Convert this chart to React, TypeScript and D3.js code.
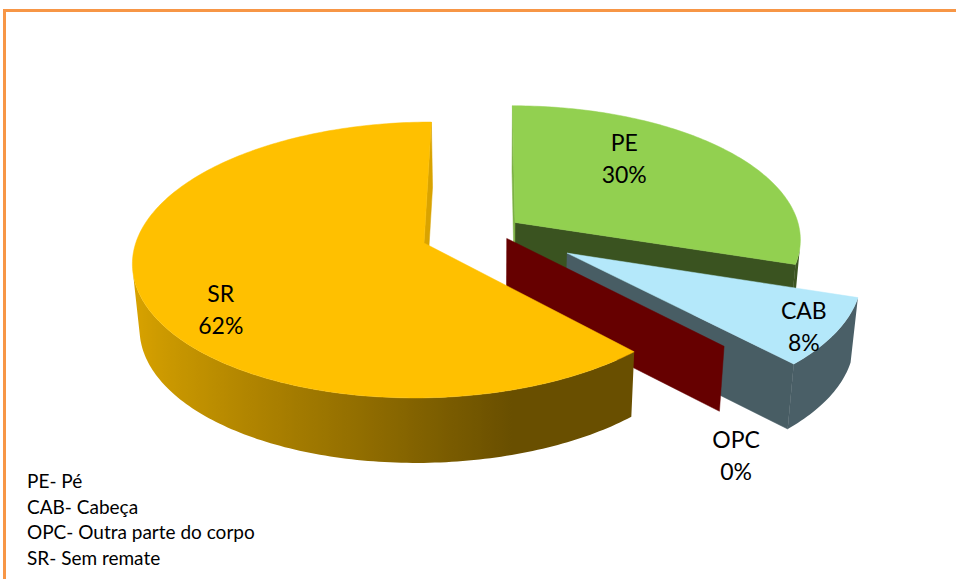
import { useMemo } from 'react'
import * as d3 from 'd3'

const W = 956, H = 579

// chart data
const categories = ['PE', 'CAB', 'OPC', 'SR']
const values = [30, 8, 0, 62]
const legendLines = ['PE- Pé', 'CAB- Cabeça', 'OPC- Outra parte do corpo', 'SR- Sem remate']

// look
const colors = ['#92D050', '#B4E8FA', '#FF0000', '#FFC000']
const explode = [0.105, 0.31, 0.08, 0.25]
// where each label sits: [angle in degrees, radius] from the slice tip
const labelSpots: [number, number][] = [[39, 0.66], [124, 0.9], [154, 1.5], [234.5, 0.8]]

// fake 3D camera: radius px, tilt, perspective, wall height px
const CX = 491, CY = 230.6, R = 285
const TILT = 0.466, PERSP = 0.122, DEPTH = 65, SHRINK = 0.02
const STEP = Math.PI / 180

function project(x: number, z: number, level: number): [number, number] {
  const k = 1 / (1 + PERSP * z)
  const drop = 1 - level
  return [CX + R * x * k * (1 - SHRINK * drop), CY - R * TILT * z * k + DEPTH * drop]
}

function signedArea(pts: [number, number][]) {
  let s = 0
  for (let i = 0; i < pts.length; i++) {
    const [x0, y0] = pts[i]
    const [x1, y1] = pts[(i + 1) % pts.length]
    s += x0 * y1 - x1 * y0
  }
  return s
}

function shade(c: string, f: number) {
  const col = d3.rgb(c)
  return d3.rgb(col.r * f, col.g * f, col.b * f).formatHex()
}

const wallShade = d3.scaleLinear().domain([-1, 0.3]).range([0.86, 0.41]).clamp(true)
const closed = d3.line<[number, number]>().curve(d3.curveLinearClosed)

type Face = { d: string; fill: string; key: string; grad?: Grad }
type Grad = { id: string; x1: number; x2: number; stops: { o: number; c: string }[] }

export default function App() {
  const { faces, labels } = useMemo(() => {
    const arcs = d3.pie<number>().sort(null).value(d => d)(values)
    const faces: Face[] = []
    const labels: { x: number; y: number; name: string; pct: string }[] = []

    arcs.forEach((a, i) => {
      const a0 = a.startAngle, a1 = a.endAngle
      const mid = (a0 + a1) / 2
      const ox = explode[i] * Math.sin(mid), oz = explode[i] * Math.cos(mid)
      const rim = (t: number, lv: number) => project(ox + Math.sin(t), oz + Math.cos(t), lv)
      const tip = (lv: number) => project(ox, oz, lv)
      const col = colors[i]
      const add = (pts: [number, number][], fill: string, key: string) => {
        if (signedArea(pts) < 0) faces.push({ d: closed(pts) || '', fill, key })
      }

      // outer wall: keep the front-facing run, one path with a shading gradient
      if (a1 > a0) {
        const n = Math.max(1, Math.ceil((a1 - a0) / STEP))
        const ts: number[] = []
        for (let j = 0; j <= n; j++) ts.push(a0 + (a1 - a0) * j / n)
        const seen: number[] = []
        for (let j = 0; j < n; j++) {
          const q = [rim(ts[j], 1), rim(ts[j + 1], 1), rim(ts[j + 1], 0), rim(ts[j], 0)] as [number, number][]
          if (signedArea(q) < 0) seen.push(j)
        }
        if (seen.length) {
          const j0 = seen[0], j1 = seen[seen.length - 1] + 1
          const run = ts.slice(j0, j1 + 1)
          const pts = [...run.map(t => rim(t, 1)), ...run.slice().reverse().map(t => rim(t, 0))]
          const xs = run.map(t => rim(t, 1)[0])
          const x1 = d3.min(xs)!, x2 = d3.max(xs)!
          const stops = run
            .map(t => ({ o: x2 > x1 ? (rim(t, 1)[0] - x1) / (x2 - x1) : 0, c: shade(col, wallShade(Math.sin(t))) }))
            .sort((p, q) => p.o - q.o)
          faces.push({ d: closed(pts) || '', fill: `url(#wall${i})`, key: `w${i}`, grad: { id: `wall${i}`, x1, x2, stops } })
        }
      }
      // cut faces
      add([rim(a1, 1), tip(1), tip(0), rim(a1, 0)],
        shade(col, -Math.sin(a1) < -0.3 ? 0.4 : 0.85), `e${i}`)
      add([tip(1), rim(a0, 1), rim(a0, 0), tip(0)],
        shade(col, Math.sin(a0) < -0.3 ? 0.4 : 0.85), `s${i}`)
      // top
      if (a1 > a0) {
        const pts: [number, number][] = [tip(1)]
        const n = Math.ceil((a1 - a0) / STEP)
        for (let j = 0; j <= n; j++) pts.push(rim(a0 + (a1 - a0) * j / n, 1))
        faces.push({ d: closed(pts) || '', fill: col, key: `t${i}` })
      }

      const [ang, r] = labelSpots[i]
      const th = ang * Math.PI / 180
      const [lx, ly] = project(ox + r * Math.sin(th), oz + r * Math.cos(th), 1)
      labels.push({ x: lx, y: ly, name: categories[i], pct: `${values[i]}%` })
    })
    return { faces, labels }
  }, [])

  return (
    <svg width={W} height={H} style={{ position: 'absolute', left: 0, top: 0, background: '#fff' }}
      fontFamily="Lato, 'Open Sans', sans-serif">
      <defs>
        {faces.filter(f => f.grad).map(f => (
          <linearGradient key={f.grad!.id} id={f.grad!.id} gradientUnits="userSpaceOnUse"
            x1={f.grad!.x1} x2={f.grad!.x2} y1={0} y2={0}>
            {f.grad!.stops.map((s, k) => <stop key={k} offset={s.o} stopColor={s.c} />)}
          </linearGradient>
        ))}
      </defs>
      <rect x={4.5} y={10.5} width={1000} height={700} fill="none" stroke="#F79646" strokeWidth={3} />
      <g>
        {faces.map(f => (
          <path key={f.key} d={f.d} fill={f.fill} stroke={f.grad ? 'none' : f.fill} strokeWidth={0.5} strokeLinejoin="round" />
        ))}
      </g>
      <g fontSize={23} fill="#000" textAnchor="middle">
        {labels.map(l => (
          <text key={l.name}>
            <tspan x={l.x} y={l.y - 8}>{l.name}</tspan>
            <tspan x={l.x} y={l.y + 24}>{l.pct}</tspan>
          </text>
        ))}
      </g>
      <g fontSize={19} fill="#000">
        {legendLines.map((t, i) => (
          <text key={t} x={27} y={488 + i * 25.7}>{t}</text>
        ))}
      </g>
    </svg>
  )
}
